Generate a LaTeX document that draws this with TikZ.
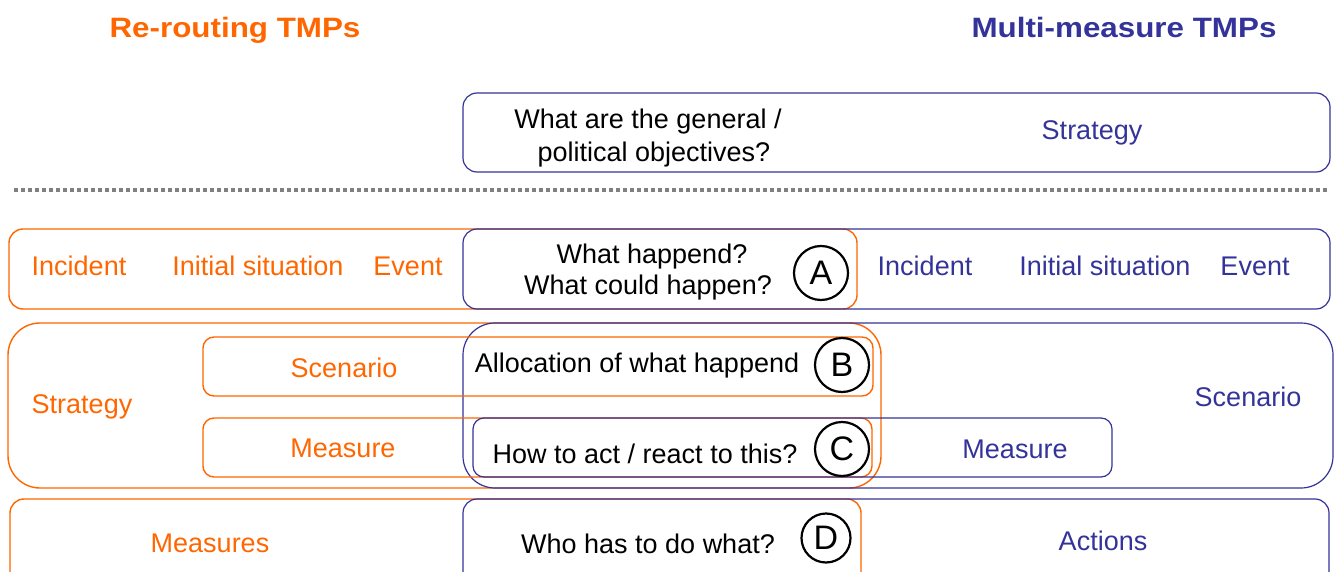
\documentclass[tikz,border=0pt]{standalone}
\usepackage{fontspec}
\setmainfont{Liberation Sans}
\usepackage{graphicx}
\definecolor{tmporange}{RGB}{255,102,0}
\definecolor{tmpblue}{RGB}{51,51,153}
\definecolor{dotgray}{RGB}{128,128,128}

\begin{document}
\begin{tikzpicture}[x=1pt,y=-1pt,
  obox/.style={draw=tmporange, line width=1.4pt, rounded corners=#1},
  obox/.default=14pt,
  bbox/.style={draw=tmpblue, line width=1.2pt, rounded corners=#1},
  bbox/.default=14pt,
  lbl/.style={font=\fontsize{27}{30}\selectfont, inner sep=0pt, anchor=base},
  olbl/.style={lbl, text=tmporange},
  blbl/.style={lbl, text=tmpblue},
  klbl/.style={lbl, text=black},
  titlelbl/.style={font=\fontsize{28}{30}\selectfont\bfseries, inner sep=0pt, anchor=base},
  lettercircle/.style={circle, draw=black, line width=2.2pt, inner sep=0pt,
    minimum size=#1, font=\fontsize{34}{36}\selectfont},
  lettercircle/.default=54pt,
]
\useasboundingbox (0,0) rectangle (1338,572);
\clip (0,0) rectangle (1338,572);

% column titles
\node[titlelbl, text=tmporange] (titleL) at (235,38) {\scalebox{1.12}[1]{Re-routing TMPs}};
\node[titlelbl, text=tmpblue] (titleR) at (1124,38) {\scalebox{1.12}[1]{Multi-measure TMPs}};

% strategic level
\draw[bbox] (463,93) rectangle (1330,172);
\node[klbl] (qObj1) at (648,129) {What are the general /};
\node[klbl] (qObj2) at (654,162) {political objectives?};
\node[blbl] (bStrategy) at (1092,140) {Strategy};

% separator
\draw[dotgray, line width=3.5pt, dash pattern=on 3.5pt off 3.5pt] (14,190) -- (1330,190);

% row A
\draw[obox] (9,229) rectangle (857,309);
\draw[bbox] (463,229) rectangle (1330,309);
\node[olbl] (rIncident) at (79,275) {Incident};
\node[olbl] (rInitial) at (258,275) {Initial situation};
\node[olbl] (rEvent) at (408,275) {Event};
\node[klbl] (qA1) at (652,263) {What happend?};
\node[klbl] (qA2) at (648,294) {What could happen?};
\node[lettercircle] (cA) at (821,273) {A};
\node[blbl] (mIncident) at (925,275) {Incident};
\node[blbl] (mInitial) at (1105,275) {Initial situation};
\node[blbl] (mEvent) at (1255,275) {Event};

% rows B and C
\draw[obox=32pt] (8,323) rectangle (881,488);
\draw[bbox=32pt] (463,323) rectangle (1333,488);
\draw[obox=11pt] (203,337) rectangle (873,396);
\draw[obox=11pt] (203,418) rectangle (872,477);
\draw[bbox=11pt] (473,418) rectangle (1112,477);
\node[olbl] (rStrategy) at (82,413) {Strategy};
\node[olbl] (rScenario) at (344,377) {Scenario};
\node[olbl] (rMeasure) at (343,457) {Measure};
\node[klbl] (qB) at (637,372) {Allocation of what happend};
\node[klbl] (qC) at (645,463) {How to act / react to this?};
\node[lettercircle] (cB) at (842,365) {B};
\node[lettercircle] (cC) at (842,449) {C};
\node[blbl] (mMeasure) at (1015,458) {Measure};
\node[blbl] (mScenario) at (1248,406) {Scenario};

% row D
\draw[obox] (10,499) rectangle (861,610);
\draw[bbox] (463,499) rectangle (1329,610);
\node[olbl] (rMeasures) at (210,552) {Measures};
\node[klbl] (qD) at (648,553) {Who has to do what?};
\node[lettercircle=49pt] (cD) at (826,538) {D};
\node[blbl] (mActions) at (1103,550) {Actions};
\end{tikzpicture}
\end{document}
